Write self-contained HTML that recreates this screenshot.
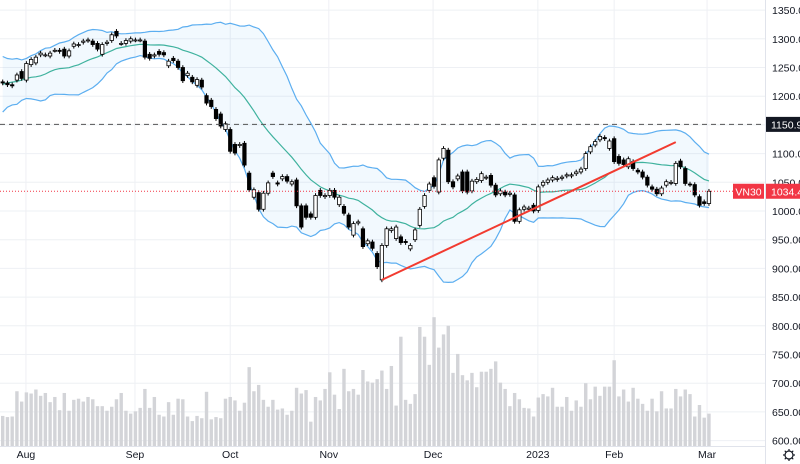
<!DOCTYPE html>
<html><head><meta charset="utf-8">
<style>
html,body{margin:0;padding:0;background:#fff;}
svg{display:block;font-family:"Liberation Sans",sans-serif;}
</style></head>
<body>
<svg id="chart" width="800" height="464" viewBox="0 0 800 464" xmlns="http://www.w3.org/2000/svg">
<g id="grid"></g>
<g id="vol"></g>
<g id="bands"></g>
<g id="candles"></g>
<g id="overlay"></g>
<g id="axis"></g>
</svg>
<script>
const opens = [1225,1223,1220,1228,1243,1228,1255,1258,1272,1272,1270,1280,1280,1282,1270,1287,1289,1294,1297,1296,1292,1273,1292,1297,1313,1292,1292,1296,1298,1298,
1296,1273,1270,1278,1276,1253,1266,1261,1250,1236,1233,1219,1228,1201,1193,1177,1169,1142,1142,1116,
1114,1118,1066,1024,1032,1003,1031,1066,1049,1056,1060,1047,1054,1009,1009,995,989,1036,1025,1027,
1036,1011,1008,993,958,979,969,943,946,926,880,940,966,952,955,947,934,950,975,1008,
1036,1058,1033,1092,1106,1051,1056,1068,1068,1035,1051,1053,1058,1062,1045,1030,1033,1029,1028,982,
1003,1003,1010,1001,1045,1050,1054,1055,1057,1061,1061,1065,1068,1074,1103,1115,1124,1128,1109,1126,
1095,1089,1077,1086,1071,1068,1059,1042,1038,1030,1045,1049,1048,1087,1074,1047,1046,1025,1016,1013];
const closes = [1223,1220,1218,1237,1231,1257,1264,1268,1275,1272,1275,1280,1278,1270,1279,1291,1290,1296,1298,1290,1282,1290,1294,1307,1305,1292,1297,1300,1298,1298,
1268,1266,1272,1273,1272,1261,1262,1250,1227,1240,1225,1229,1216,1188,1182,1161,1148,1152,1104,1101,
1116,1080,1037,1037,1003,1031,1049,1060,1047,1060,1052,1051,1009,972,989,989,1027,1027,1027,1036,
1024,1024,996,972,978,981,938,948,935,903,940,969,969,972,945,945,940,967,1003,1027,
1047,1043,1089,1109,1051,1042,1061,1035,1033,1052,1055,1065,1059,1045,1028,1035,1028,1031,982,1002,
1007,1005,1000,1042,1050,1054,1058,1057,1059,1063,1063,1068,1073,1100,1112,1121,1130,1126,1122,1086,
1083,1081,1091,1074,1068,1059,1045,1038,1030,1040,1051,1050,1083,1077,1048,1046,1028,1010,1013,1034.4];
const volumes = [643,641,642,686,668,684,682,689,678,683,667,676,653,683,652,671,673,668,676,672,660,660,652,659,672,683,652,647,651,657,
690,657,676,645,642,667,645,673,672,642,634,643,639,685,637,641,639,673,676,670,
652,666,728,686,697,671,659,671,654,656,645,652,692,682,688,633,676,670,690,719,
680,655,725,686,690,680,723,703,701,707,722,690,730,661,781,671,664,681,798,781,
732,815,762,785,800,718,751,714,705,718,693,720,720,725,738,701,690,660,683,672,
657,656,642,675,681,677,692,659,659,676,652,670,659,700,672,694,678,694,694,740,
677,689,668,692,673,664,652,673,651,686,656,656,690,677,689,681,642,662,640,647];
const priorCloses = [1170,1190,1215,1185,1200,1225,1250,1240,1210,1190,1215,1240,1255,1262,1235,1245,1215,1222,1228];
const priceTicks = [1350,1300,1250,1200,1150,1100,1050,1000,950,900,850,800,750,700,650,600];
const monthLabels = ["Aug","Sep","Oct","Nov","Dec","2023","Feb","Mar"];
const monthIndex = [4.9,27.9,48,68.8,90.8,112.9,129,148.6];
const hLine = 1150.9;
const trendStart = [80, 880];
const trendEnd = [142, 1120];

const NS = "http://www.w3.org/2000/svg";
const plotRight = 765;
function x(i){ return 2.7 + i*4.74; }
function y(v){ return 211 - (v-1000)*0.574; }
function mk(tag, attrs, parent){
  const e = document.createElementNS(NS, tag);
  for (const k in attrs) e.setAttribute(k, attrs[k]);
  parent.appendChild(e); return e;
}
const grid = document.getElementById('grid');
const vol = document.getElementById('vol');
const bands = document.getElementById('bands');
const cg = document.getElementById('candles');
const ov = document.getElementById('overlay');
const ax = document.getElementById('axis');

priceTicks.forEach(t=>{
  const l = mk('line',{x1:0,x2:plotRight,y1:y(t),y2:y(t),stroke:'#eef0f4','stroke-width':1},grid);
  
  
});
monthIndex.forEach((m,k)=>{
  const l = mk('line',{x1:x(m),x2:x(m),y1:0,y2:446,stroke:'#eef0f4','stroke-width':1},grid);
  
  
});

volumes.forEach((v,i)=>{
  const r = mk('rect',{x:x(i)-1.7,y:y(v),width:3.4,height:Math.max(0,446-y(v)),fill:'#d3d4d8'},vol);
  
  
});

const all = priorCloses.concat(closes);
const up=[],mid=[],lo=[];
for(let i=0;i<closes.length;i++){
  const w = all.slice(i, i+20);
  const m = w.reduce((a,b)=>a+b,0)/w.length;
  const sd = Math.sqrt(w.reduce((a,b)=>a+(b-m)*(b-m),0)/w.length);
  mid.push(m); up.push(m+2*sd); lo.push(m-2*sd);
}
function pts(arr){ return arr.map((v,i)=>(x(i)).toFixed(1)+','+y(v).toFixed(1)); }
const fillPts = pts(up).concat(pts(lo).reverse()).join(' ');
const f = mk('polygon',{points:fillPts,fill:'rgba(33,150,243,0.06)'},bands);


const pu = mk('polyline',{points:pts(up).join(' '),fill:'none',stroke:'#5caef0','stroke-width':1.2},bands);


const pl = mk('polyline',{points:pts(lo).join(' '),fill:'none',stroke:'#5caef0','stroke-width':1.2},bands);


const pm = mk('polyline',{points:pts(mid).join(' '),fill:'none',stroke:'#3fb29e','stroke-width':1.2},bands);



closes.forEach((c,i)=>{
  const o = opens[i];
  const hi = Math.max(o,c)+4, lw = Math.min(o,c)-4;
  const g = mk('g',{},cg);
  
  
  mk('line',{x1:x(i),x2:x(i),y1:y(hi),y2:y(lw),stroke:'#000','stroke-width':1},g);
  const top = y(Math.max(o,c)), bot = y(Math.min(o,c));
  mk('rect',{x:x(i)-1.7,y:top,width:3.4,height:Math.max(1,bot-top),fill:c>=o?'#fff':'#000',stroke:'#000','stroke-width':0.8},g);
});

const hl = mk('line',{x1:0,x2:plotRight,y1:y(hLine),y2:y(hLine),stroke:'#555','stroke-width':1,'stroke-dasharray':'5,4'},ov);


const last = closes[closes.length-1];
const pline = mk('line',{x1:0,x2:plotRight,y1:y(last),y2:y(last),stroke:'#f23645','stroke-width':1,'stroke-dasharray':'1,2'},ov);


const tl = mk('line',{x1:x(trendStart[0]),y1:y(trendStart[1]),x2:x(trendEnd[0]),y2:y(trendEnd[1]),stroke:'#f23b30','stroke-width':2},ov);



const axl = mk('line',{x1:plotRight+0.5,x2:plotRight+0.5,y1:0,y2:464,stroke:'#e0e3eb','stroke-width':1},ax);


const bl = mk('line',{x1:0,x2:plotRight,y1:446.5,y2:446.5,stroke:'#e0e3eb','stroke-width':1},ax);


priceTicks.forEach(t=>{
  const tx = mk('text',{x:772,y:y(t)+4,'font-size':10.5,fill:'#131722'},ax);
  tx.textContent = t.toFixed(2);
  
  
});
monthLabels.forEach((m,k)=>{
  const tx = mk('text',{x:x(monthIndex[k]),y:458,'font-size':10.5,fill:'#131722','text-anchor':'middle'},ax);
  tx.textContent = m;
  
  
});
const lb = mk('rect',{x:766,y:y(hLine)-7.5,width:34,height:15,fill:'#131722'},ax);


const lt = mk('text',{x:771,y:y(hLine)+4,'font-size':10.5,fill:'#fff'},ax);
lt.textContent = hLine.toFixed(1);


const sb = mk('rect',{x:733,y:y(last)-7.5,width:31,height:15,fill:'#f23645'},ax);


const st = mk('text',{x:748.5,y:y(last)+4,'font-size':10.5,fill:'#fff','text-anchor':'middle'},ax);
st.textContent = 'VN30';


const prb = mk('rect',{x:766,y:y(last)-7.5,width:34,height:15,fill:'#f23645'},ax);


const prt = mk('text',{x:771,y:y(last)+4,'font-size':10.5,fill:'#fff'},ax);
prt.textContent = last.toFixed(1);


const gear = mk('g',{},ax);


mk('circle',{cx:789,cy:455,r:4,fill:'none',stroke:'#131722','stroke-width':1.2},gear);
for(let a=0;a<8;a++){
  const ang=a*Math.PI/4;
  mk('line',{x1:789+Math.cos(ang)*4,y1:455+Math.sin(ang)*4,x2:789+Math.cos(ang)*6,y2:455+Math.sin(ang)*6,stroke:'#131722','stroke-width':1.2},gear);
}
</script>
</body></html>
